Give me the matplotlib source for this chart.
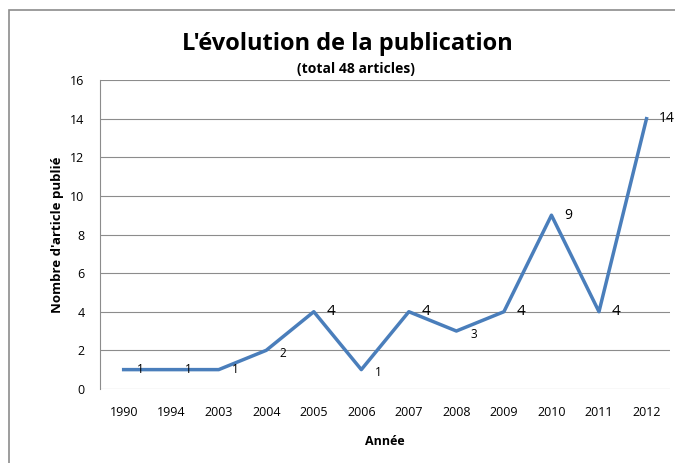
import matplotlib.pyplot as plt
from matplotlib.patches import Rectangle

years = ['1990', '1994', '2003', '2004', '2005', '2006',
         '2007', '2008', '2009', '2010', '2011', '2012']
articles = [1, 1, 1, 2, 4, 1, 4, 3, 4, 9, 4, 14]
yticks = [0, 2, 4, 6, 8, 10, 12, 14, 16]

plt.rcParams['font.family'] = ['Open Sans', 'DejaVu Sans']

fig = plt.figure(figsize=(6.75, 4.63), dpi=100)
ax = fig.add_axes([0.148, 0.160, 0.845, 0.667])

x = range(len(years))
ax.plot(x, articles, color='#4a7ebb', linewidth=2.5, zorder=3)

# etiquettes de valeurs, a droite des points
big = {4: 11, 14: 10, 9: 10}
for i, v in enumerate(articles):
    dy = -3 if v in (2, 3, 1) and i > 2 else 0
    ax.annotate(str(v), (i, v), xytext=(17 if v < 10 else 20, dy),
                textcoords='offset pixels',
                ha='center', va='center', fontsize=big.get(v, 8.5), zorder=4)

ax.set_xlim(-0.5, len(years) - 0.5)
ax.set_ylim(0, 16)
ax.set_yticks(yticks)
ax.set_xticks(list(x))
ax.set_xticklabels(years)
ax.grid(axis='y', color='#8c8c8c', linewidth=0.8)
ax.set_axisbelow(True)
for s in ['top', 'right', 'bottom']:
    ax.spines[s].set_visible(False)
ax.spines['left'].set_color('#8c8c8c')
ax.tick_params(length=0, labelsize=9, pad=12)
ax.tick_params(axis='y', pad=11)

ax.set_ylabel("Nombre d'article publié", fontsize=9.5, fontweight='bold')
ax.yaxis.set_label_coords(-0.063, 0.5)
ax.set_xlabel('Année', fontsize=9, fontweight='bold', labelpad=12)

fig.text(0.515, 0.905, "L'évolution de la publication", ha='center', va='center',
         fontsize=17, fontweight='bold')
fig.text(0.527, 0.851, '(total 48 articles)', ha='center', va='center',
         fontsize=10, fontweight='bold')

fig.patches.append(Rectangle((0.014, -0.05), 1.1, 1.028, transform=fig.transFigure,
                             fill=False, edgecolor='#8c8c8c', linewidth=1.2))

plt.savefig('out.png', dpi=100)
